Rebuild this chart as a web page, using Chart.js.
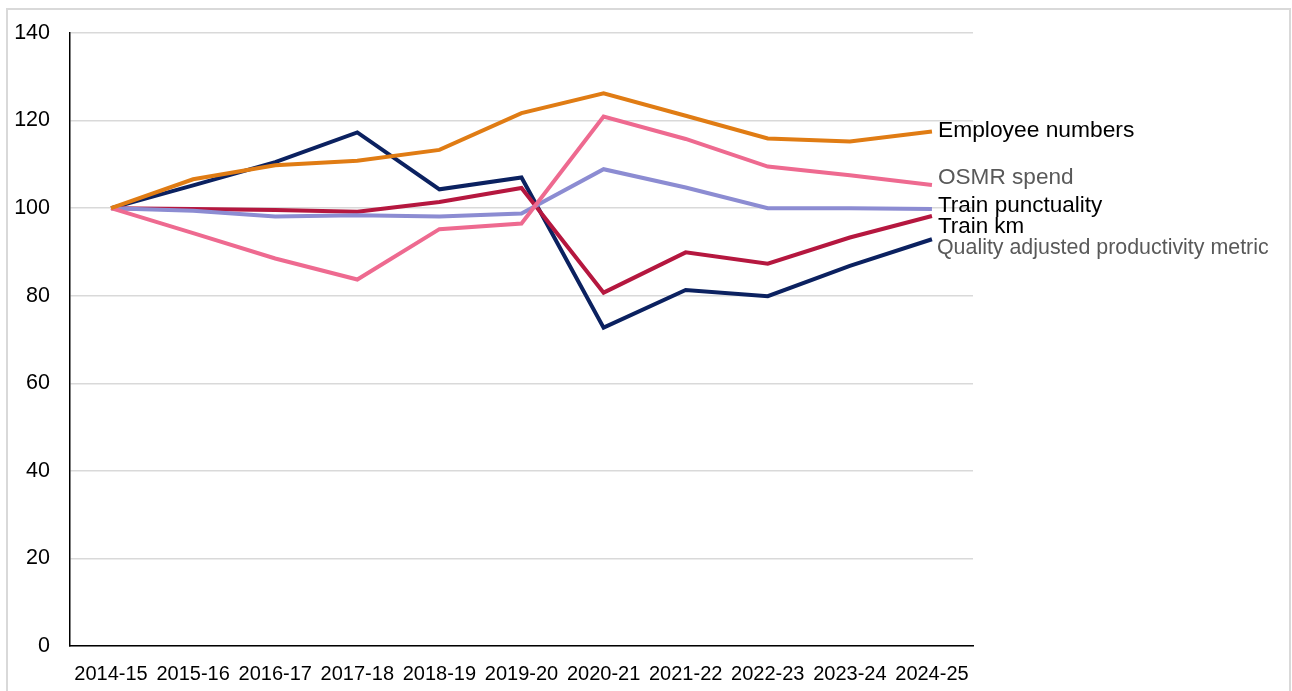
<!DOCTYPE html>
<html>
<head>
<meta charset="utf-8">
<script src="https://cdn.jsdelivr.net/npm/chart.js@4.4.1/dist/chart.umd.min.js"></script>
<style>
  html, body { margin: 0; padding: 0; background: #fff; }
  #marco { position: absolute; left: 6px; top: 8px; width: 1285px; height: 700px; border: 2px solid #d9d9d9; box-sizing: border-box; }
  #grafico { position: absolute; left: 0; top: 0; }
</style>
</head>
<body>
<div id="marco"></div>
<canvas id="grafico" width="1292" height="691"></canvas>
<script>
// datos (indice 2014-15 = 100)
const periodos = ['2014-15', '2015-16', '2016-17', '2017-18', '2018-19', '2019-20', '2020-21', '2021-22', '2022-23', '2023-24', '2024-25'];
const employeeNumbers = [100, 106.6, 109.8, 110.8, 113.3, 121.7, 126.2, 121.1, 115.9, 115.2, 117.5];
const osmrSpend = [100, 94.3, 88.5, 83.7, 95.2, 96.5, 120.9, 115.8, 109.5, 107.5, 105.3];
const trainPunctuality = [100, 99.4, 98.1, 98.4, 98.1, 98.8, 108.9, 104.7, 100.0, 100.0, 99.8];
const trainKm = [100, 99.8, 99.6, 99.2, 101.4, 104.6, 80.7, 89.9, 87.3, 93.3, 98.2];
const qualityAdjusted = [100, 105.2, 110.5, 117.3, 104.3, 107.0, 72.7, 81.3, 79.9, 86.8, 92.9];

const series = ['Employee numbers', 'OSMR spend', 'Train punctuality', 'Train km', 'Quality adjusted productivity metric'];
const colores = ['#e07c14', '#ee6a90', '#8c8cd2', '#b5173f', '#0b2160'];
const coloresTexto = ['#000000', '#595959', '#000000', '#000000', '#595959'];
// desplazamiento vertical y tamaño de cada etiqueta final
const ajusteEtiqueta = [-1, -7, -3, 11, 9];
const tamanoEtiqueta = [22.8, 22.6, 22.5, 22.4, 21.4];

const FUENTE = '"Liberation Sans", Arial, sans-serif';

// 🔹 etiquetas al final de cada linea
const etiquetasFinales = {
    id: 'etiquetasFinales',
    afterDatasetsDraw(chart) {
        const ctx = chart.ctx;
        ctx.save();
        ctx.textBaseline = 'middle';
        ctx.textAlign = 'left';
        chart.data.datasets.forEach((ds, i) => {
            const meta = chart.getDatasetMeta(i);
            const p = meta.data[meta.data.length - 1];
            ctx.font = tamanoEtiqueta[i] + 'px ' + FUENTE;
            ctx.fillStyle = coloresTexto[i];
            ctx.fillText(ds.label, p.x + (i === 4 ? 5 : 6), p.y + ajusteEtiqueta[i]);
        });
        ctx.restore();
    }
};

const valores = [employeeNumbers, osmrSpend, trainPunctuality, trainKm, qualityAdjusted];

new Chart(document.getElementById('grafico'), {
    type: 'line',
    data: {
        labels: periodos,
        datasets: valores.map((v, i) => ({
            label: series[i],
            data: v,
            borderColor: colores[i],
            borderWidth: 4,
            pointRadius: 0,
            tension: 0,
            fill: false
        }))
    },
    options: {
        responsive: false,
        animation: false,
        layout: { padding: { top: 33, right: 319, left: 0, bottom: 0 } },
        plugins: { legend: { display: false }, tooltip: { enabled: false } },
        scales: {
            x: {
                offset: true,
                grid: { display: false },
                border: { display: true, color: '#000000', width: 1.5 },
                ticks: { color: '#000000', font: { family: FUENTE, size: 20 }, maxRotation: 0, autoSkip: false, padding: 8 },
                afterFit(scale) { scale.height = 45; }
            },
            y: {
                min: 0,
                max: 140,
                ticks: { stepSize: 20, color: '#000000', font: { family: FUENTE, size: 21.5 }, padding: 20 },
                grid: { color: '#d9d9d9', lineWidth: 1.5, drawTicks: false },
                border: { display: true, color: '#000000', width: 1.5 },
                afterFit(scale) { scale.width = 70; }
            }
        }
    },
    plugins: [etiquetasFinales]
});
</script>
</body>
</html>
